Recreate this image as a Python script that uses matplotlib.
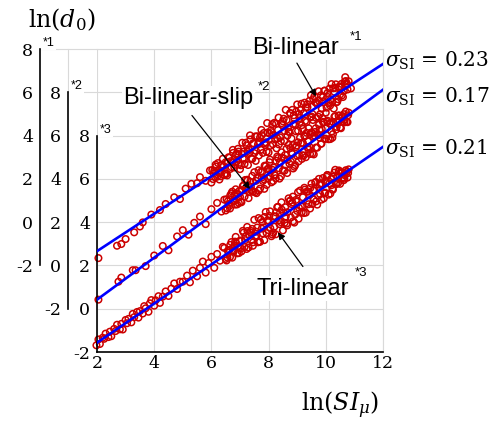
import numpy as np
import matplotlib
matplotlib.use("Agg")
from matplotlib import pyplot as plt

plt.rcParams['font.family'] = 'DejaVu Serif'
plt.rcParams['mathtext.fontset'] = 'dejavuserif'

# ln(SI_mu) / ln(d0) samples, each group in the units of its own y axis
x_bl = [2.05, 2.7, 2.85, 3.0, 3.3, 3.5, 3.6, 3.9, 4.2, 4.4, 4.7, 4.9, 5.1, 5.3, 5.5, 5.6, 5.8,
        5.95, 6.0, 6.08, 6.1, 6.15, 6.2, 6.28, 6.3, 6.35, 6.4, 6.48, 6.5, 6.55, 6.6, 6.68, 6.7,
        6.75, 6.8, 6.88, 6.9, 6.95, 7.0, 7.08, 7.1, 7.15, 7.2, 7.28, 7.3, 7.35, 7.4, 7.48, 7.5,
        7.55, 7.6, 7.68, 7.7, 7.75, 7.8, 7.88, 7.9, 7.95, 8.0, 8.08, 8.1, 8.15, 8.2, 8.28, 8.3,
        8.35, 8.4, 8.48, 8.5, 8.55, 8.6, 8.68, 8.7, 8.75, 8.8, 8.88, 8.9, 8.95, 9.0, 9.08, 9.1,
        9.15, 9.2, 9.28, 9.3, 9.35, 9.4, 9.48, 9.5, 9.55, 9.6, 9.68, 9.7, 9.75, 9.8, 9.88, 9.9,
        9.95, 10.0, 10.08, 10.1, 10.15, 10.2, 10.28, 10.3, 10.35, 10.4, 10.48, 10.5, 10.55, 10.6,
        10.68, 10.7, 10.75, 10.8, 10.88,
        6.03, 6.13, 6.23, 6.33, 6.43, 6.53, 6.63, 6.73, 6.83, 6.93, 7.03, 7.13, 7.23, 7.33, 7.43, 7.53,
        7.63, 7.73, 7.83, 7.93, 8.03, 8.13, 8.23, 8.33, 8.43, 8.53, 8.63, 8.73, 8.83, 8.93, 9.03, 9.13,
        9.23, 9.33, 9.43, 9.53, 9.63, 9.73, 9.83, 9.93, 10.03, 10.13, 10.23, 10.33, 10.43, 10.53, 10.63, 10.73,
        6.06, 6.16, 6.26, 6.36, 6.46, 6.56, 6.66, 6.76, 6.86, 6.96, 7.06, 7.16, 7.26, 7.36, 7.46, 7.56,
        7.66, 7.76, 7.86, 7.96, 8.06, 8.16, 8.26, 8.36, 8.46, 8.56, 8.66, 8.76, 8.86, 8.96, 9.06, 9.16,
        9.26, 9.36, 9.46, 9.56, 9.66, 9.76, 9.86, 9.96, 10.06, 10.16, 10.26, 10.36, 10.46, 10.56, 10.66, 10.76]
y_bl = [-1.66, -1.09, -1.01, -0.78, -0.47, -0.20, -0.01, 0.35, 0.56, 0.84, 1.15, 1.07, 1.55, 1.77, 1.80, 2.08, 1.91,
        2.39, 1.83, 2.25, 2.37, 2.66, 2.10, 1.97, 2.29, 2.64, 2.93, 2.25, 2.77, 2.16, 3.00, 2.82, 2.54,
        3.34, 2.53, 2.80, 3.17, 3.26, 2.45, 3.67, 2.94, 2.93, 3.67, 2.64, 3.36, 4.01, 2.95, 3.62, 3.19,
        2.83, 3.97, 3.69, 3.91, 4.26, 3.20, 3.57, 3.69, 4.58, 3.22, 4.24, 4.16, 3.60, 4.59, 3.41, 3.88,
        4.83, 3.92, 4.49, 4.66, 3.75, 5.19, 4.36, 4.18, 5.03, 3.87, 4.94, 4.81, 4.20, 5.44, 4.81, 4.63,
        5.47, 4.31, 4.68, 5.30, 5.45, 4.34, 5.86, 4.88, 4.72, 5.81, 5.53, 5.45, 6.05, 4.99, 4.81, 5.78,
        6.07, 5.06, 5.78, 5.50, 5.39, 6.38, 5.25, 6.02, 6.37, 5.56, 6.23, 5.90, 6.39, 5.78,
        6.70, 6.52, 6.37, 6.51, 6.18,
        2.41, 2.09, 2.73, 2.12, 2.60, 2.24, 2.98, 2.77, 2.65, 3.39, 2.63, 3.26, 3.55, 3.19, 2.92, 3.96,
        3.60, 3.34, 4.12, 3.26, 4.10, 4.53, 3.82, 4.26, 3.74, 4.78, 4.72, 4.16, 5.19, 4.53, 4.22, 5.20,
        5.04, 4.63, 5.61, 5.00, 5.54, 4.88, 5.86, 5.55, 5.29, 6.17, 5.56, 6.20, 5.68, 6.27, 6.06, 6.40,
        1.99, 2.57, 2.31, 2.65, 2.18, 2.77, 2.46, 3.20, 3.13, 2.67, 3.16, 2.69, 3.28, 3.82, 3.65, 3.29,
        3.08, 4.02, 3.65, 4.14, 3.53, 4.01, 4.55, 3.59, 4.57, 4.21, 4.00, 5.04, 4.52, 5.11, 5.00, 4.48,
        5.52, 5.31, 4.84, 5.68, 4.82, 5.61, 5.24, 6.08, 5.97, 5.65, 6.19, 5.53, 6.26, 5.85, 6.49, 6.13]

x_bls = [2.05, 2.75, 2.85, 3.25, 3.35, 3.7, 4.0, 4.3, 4.5, 4.8, 5.0, 5.2, 5.4, 5.6, 5.8, 6.0, 6.2, 6.35,
         6.45, 6.5, 6.58, 6.6, 6.65, 6.7, 6.78, 6.8, 6.85, 6.9, 6.98, 7.0, 7.05, 7.1, 7.18, 7.2,
         7.25, 7.3, 7.38, 7.4, 7.45, 7.5, 7.58, 7.6, 7.65, 7.7, 7.78, 7.8, 7.85, 7.9, 7.98, 8.0,
         8.05, 8.1, 8.18, 8.2, 8.25, 8.3, 8.38, 8.4, 8.45, 8.5, 8.58, 8.6, 8.65, 8.7, 8.78, 8.8,
         8.85, 8.9, 8.98, 9.0, 9.05, 9.1, 9.18, 9.2, 9.25, 9.3, 9.38, 9.4, 9.45, 9.5, 9.58, 9.6,
         9.65, 9.7, 9.78, 9.8, 9.85, 9.9, 9.98, 10.0, 10.05, 10.1, 10.18, 10.2, 10.25, 10.3, 10.38, 10.4,
         10.45, 10.5, 10.58, 10.6, 10.65, 10.7, 10.78, 10.8,
         6.53, 6.63, 6.73, 6.83, 6.93, 7.03, 7.13, 7.23, 7.33, 7.43, 7.53, 7.63, 7.73, 7.83, 7.93,
         8.03, 8.13, 8.23, 8.33, 8.43, 8.53, 8.63, 8.73, 8.83, 8.93, 9.03, 9.13, 9.23, 9.33, 9.43,
         9.53, 9.63, 9.73, 9.83, 9.93, 10.03, 10.13, 10.23, 10.33, 10.43, 10.53, 10.63, 10.73,
         6.56, 6.66, 6.76, 6.86, 6.96, 7.06, 7.16, 7.26, 7.36, 7.46, 7.56, 7.66, 7.76, 7.86, 7.96,
         8.06, 8.16, 8.26, 8.36, 8.46, 8.56, 8.66, 8.76, 8.86, 8.96, 9.06, 9.16, 9.26, 9.36, 9.46,
         9.56, 9.66, 9.76, 9.86, 9.96, 10.06, 10.16, 10.26, 10.36, 10.46, 10.56, 10.66, 10.76]
y_bls = [-1.58, -0.75, -0.56, -0.22, -0.22, -0.03, 0.46, 0.90, 0.70, 1.34, 1.63, 1.42, 1.97, 2.26, 1.91, 2.60, 2.89, 2.49,
         3.04, 2.54, 2.97, 2.84, 2.63, 3.33, 2.96, 3.23, 3.52, 2.82, 3.45, 3.17, 2.92, 3.67, 3.95, 3.57,
         3.96, 3.11, 3.64, 3.46, 3.41, 4.31, 3.34, 4.06, 4.40, 3.55, 4.33, 3.90, 3.54, 4.59, 4.02, 4.49,
         4.89, 3.84, 4.52, 4.19, 4.03, 5.03, 4.01, 4.78, 5.23, 4.38, 5.11, 4.63, 4.27, 5.57, 4.80, 5.22,
         5.56, 4.56, 5.54, 5.06, 4.81, 5.91, 5.09, 5.66, 6.00, 5.00, 5.73, 5.35, 5.15, 6.15, 5.13, 6.00,
         6.34, 5.44, 6.27, 5.89, 5.63, 6.63, 5.86, 6.33, 6.63, 5.83, 6.56, 6.18, 6.07, 6.87, 6.40, 6.67,
         6.92, 6.37, 6.90, 6.67, 6.61, 7.11, 6.94, 7.06,
         3.06, 2.76, 3.41, 2.81, 3.30, 2.95, 3.70, 3.49, 3.39, 4.14, 3.38, 4.03, 4.33, 3.98, 3.72,
         4.77, 4.42, 4.16, 4.96, 4.11, 4.95, 5.40, 4.70, 5.15, 4.64, 5.69, 5.64, 5.08, 6.13, 5.48,
         5.17, 6.17, 6.02, 5.62, 6.61, 6.01, 6.56, 5.90, 6.90, 6.60, 6.34, 6.99, 6.64,
         2.64, 3.24, 2.99, 3.34, 2.88, 3.48, 3.18, 3.92, 3.87, 3.42, 3.91, 3.46, 4.06, 4.61, 4.45,
         4.10, 3.90, 4.84, 4.49, 4.99, 4.38, 4.88, 5.43, 4.48, 5.47, 5.12, 4.92, 5.96, 5.46, 6.06,
         5.95, 5.45, 6.50, 6.30, 5.84, 6.69, 5.84, 6.63, 6.28, 6.93, 6.82, 6.72, 6.62]

x_tl = [1.98, 2.05, 2.1, 2.2, 2.25, 2.3, 2.4, 2.45, 2.5, 2.6, 2.65, 2.7, 2.8, 2.85, 2.9, 3.0, 3.05,
        3.1, 3.2, 3.25, 3.3, 3.4, 3.45, 3.5, 3.6, 3.65, 3.7, 3.8, 3.85, 3.9, 4.0, 4.05, 4.15, 4.2,
        4.3, 4.4, 4.5, 4.6, 4.7, 4.8, 4.9, 5.0,
        5.15, 5.25, 5.35, 5.5, 5.6, 5.7, 5.8, 5.9, 6.0, 6.1, 6.2, 6.3, 6.4,
        6.45, 6.5, 6.58, 6.6, 6.65, 6.7, 6.78, 6.8, 6.85, 6.9, 6.98, 7.0, 7.05, 7.1, 7.18, 7.2,
        7.25, 7.3, 7.38, 7.4, 7.45, 7.5, 7.58, 7.6, 7.65, 7.7, 7.78, 7.8, 7.85, 7.9, 7.98, 8.0,
        8.05, 8.1, 8.18, 8.2, 8.25, 8.3, 8.38, 8.4, 8.45, 8.5, 8.58, 8.6, 8.65, 8.7, 8.78, 8.8,
        8.85, 8.9, 8.98, 9.0, 9.05, 9.1, 9.18, 9.2, 9.25, 9.3, 9.38, 9.4, 9.45, 9.5, 9.58, 9.6,
        9.65, 9.7, 9.78, 9.8, 9.85, 9.9, 9.98, 10.0, 10.05, 10.1, 10.18, 10.2, 10.25, 10.3, 10.38, 10.4,
        10.45, 10.5, 10.58, 10.6, 10.65, 10.7, 10.78, 10.8,
        6.53, 6.63, 6.73, 6.83, 6.93, 7.03, 7.13, 7.23, 7.33, 7.43, 7.53, 7.63, 7.73, 7.83, 7.93,
        8.03, 8.13, 8.23, 8.33, 8.43, 8.53, 8.63, 8.73, 8.83, 8.93, 9.03, 9.13, 9.23, 9.33, 9.43,
        9.53, 9.63, 9.73, 9.83, 9.93, 10.03, 10.13, 10.23, 10.33, 10.43, 10.53, 10.63, 10.73,
        6.56, 6.66, 6.76, 6.86, 6.96, 7.06, 7.16, 7.26, 7.36, 7.46, 7.56, 7.66, 7.76, 7.86, 7.96,
        8.06, 8.16, 8.26, 8.36, 8.46, 8.56, 8.66, 8.76, 8.86, 8.96, 9.06, 9.16, 9.26, 9.36, 9.46,
        9.56, 9.66, 9.76, 9.86, 9.96, 10.06, 10.16, 10.26, 10.36, 10.46, 10.56, 10.66, 10.76]
y_tl = [-1.69, -1.42, -1.63, -1.34, -1.39, -1.15, -1.31, -1.06, -1.27, -0.93, -1.03, -0.74, -0.95, -0.70, -0.96, -0.52, -0.67,
        -0.47, -0.63, -0.24, -0.39, -0.15, -0.41, -0.11, -0.22, 0.12, 0.02, -0.14, 0.25, 0.40, 0.14, 0.39, 0.58, 0.27,
        0.56, 0.80, 0.59, 0.93, 1.17, 0.91, 1.25, 1.25,
        1.53, 1.22, 1.76, 1.50, 1.89, 2.18, 1.67, 2.11, 2.40, 1.89, 2.53, 2.22, 2.86,
        2.81, 2.30, 2.67, 2.59, 2.39, 3.08, 2.65, 2.92, 3.32, 2.56, 3.13, 2.85, 2.65, 3.60, 3.17, 3.34,
        3.78, 2.83, 3.60, 3.17, 2.91, 4.11, 3.38, 3.75, 4.19, 3.09, 4.01, 3.48, 3.17, 4.47, 3.64, 4.06,
        4.50, 3.35, 4.27, 3.79, 3.44, 4.69, 3.91, 4.43, 4.92, 3.62, 4.69, 4.26, 3.85, 5.10, 4.22, 4.84,
        5.18, 3.98, 4.95, 4.52, 4.16, 5.46, 4.73, 5.15, 5.59, 4.44, 5.41, 4.83, 4.63, 5.78, 5.05, 5.47,
        5.86, 4.81, 5.73, 5.30, 5.04, 6.04, 5.36, 5.88, 6.17, 5.27, 5.99, 5.71, 5.50, 6.29, 5.81, 6.13,
        6.33, 5.77, 6.29, 6.06, 6.01, 6.40, 6.27, 6.44,
        2.23, 2.72, 2.36, 3.10, 2.89, 2.78, 3.52, 2.76, 3.40, 3.69, 3.33, 3.07, 4.12, 3.76, 3.50,
        4.29, 3.43, 4.27, 4.71, 4.00, 4.44, 3.93, 4.97, 4.91, 4.35, 5.39, 4.73, 4.42, 5.41, 5.25,
        4.84, 5.83, 5.22, 5.76, 5.10, 6.10, 5.79, 5.53, 6.42, 5.81, 6.30, 5.94, 6.33,
        2.36, 2.95, 2.69, 3.03, 2.57, 3.16, 2.85, 3.59, 3.53, 3.07, 3.56, 3.10, 3.70, 4.24, 4.08,
        3.72, 3.51, 4.45, 4.09, 4.58, 3.97, 4.46, 5.00, 4.04, 5.03, 4.67, 4.46, 5.50, 4.99, 5.58,
        5.47, 4.96, 6.00, 5.79, 5.33, 6.18, 5.32, 6.11, 5.75, 6.39, 6.28, 6.17, 6.06]

# regression lines (intercept, slope) and their sigma
fits = [(-3.07, 0.865), (-3.52, 0.97), (-3.38, 0.905)]
sigmas = ['0.23', '0.17', '0.21']
xticks = [2, 4, 6, 8, 10, 12]
yticks = [-2, 0, 2, 4, 6, 8]

red = '#cc0000'
grey = '#d9d9d9'
sans = 'Liberation Sans'

fig = plt.figure(figsize=(4.99, 4.23), dpi=100)
ax = fig.add_axes([0.1944, 0.1678, 0.5731, 0.7163])
ax.set_xlim(2, 12)
ax.set_ylim(-2, 12)

groups = [(x_bl, y_bl, 4), (x_bls, y_bls, 2), (x_tl, y_tl, 0)]
xl = np.array([2, 12])
for (xs, ys, off), (a, b) in zip(groups, fits):
    ax.scatter(xs, np.array(ys) + off, s=22, facecolors='none', edgecolors=red,
               linewidths=1.1, zorder=2, clip_on=False)
    ax.plot(xl, a + b * xl + off, color='#0000ff', lw=1.9, zorder=3)

ax.set_xticks(xticks)
ax.set_xticklabels([str(t) for t in xticks])
ax.set_yticks(yticks + [10, 12])
ax.set_yticklabels([str(t) for t in yticks] + ['', ''])
ax.grid(True, color=grey, lw=0.8)
ax.set_axisbelow(True)
for s in ['top', 'right']:
    ax.spines[s].set_color(grey)
    ax.spines[s].set_linewidth(0.8)
ax.spines['left'].set_bounds(-2, 8)
ax.spines['left'].set_linewidth(1.2)
ax.spines['bottom'].set_linewidth(1.2)
ax.tick_params(length=0, labelsize=12.5)
ax.tick_params(axis='y', pad=5)
ax.tick_params(axis='x', pad=2)

# the two shifted y axes of the upper groups
locs = [-0.1993, -0.1014]
for loc, off in zip(locs, [4, 2]):
    sec = ax.secondary_yaxis(loc, functions=(lambda v, o=off: v - o, lambda v, o=off: v + o))
    sec.set_yticks(yticks)
    sec.set_yticklabels([str(t) for t in yticks])
    sec.spines['left'].set_bounds(-2, 8)
    sec.spines['left'].set_linewidth(1.2)
    sec.tick_params(length=0, labelsize=12.5, pad=5)

ytr = ax.get_yaxis_transform()
ax.plot([locs[0], 0], [12, 12], color=grey, lw=0.8, transform=ytr, clip_on=False, zorder=0)
ax.plot([locs[1], 0], [10, 10], color=grey, lw=0.8, transform=ytr, clip_on=False, zorder=0)
ax.plot([locs[1], locs[1]], [10, 12], color=grey, lw=0.8, transform=ytr, clip_on=False, zorder=0)

wb = dict(facecolor='white', edgecolor='none', pad=1)
for loc, top, tag in zip(locs + [0], [12, 10, 8], ['*1', '*2', '*3']):
    ax.annotate(tag, xy=(loc, top), xycoords=ytr, xytext=(2, 0), textcoords='offset points',
                ha='left', va='bottom', fontsize=9, family=sans, bbox=wb, zorder=5)

# model labels and arrows
ax.text(7.42, 11.77, 'Bi-linear', fontsize=17, family=sans, va='baseline', bbox=wb, zorder=5)
ax.text(10.85, 12.84, '*1', fontsize=9.5, family=sans, va='top', zorder=5)
ax.text(2.91, 9.44, 'Bi-linear-slip', fontsize=17, family=sans, va='baseline', bbox=wb, zorder=5)
ax.text(7.63, 10.51, '*2', fontsize=9.5, family=sans, va='top', zorder=5)
ax.text(7.59, 0.65, 'Tri-linear', fontsize=17, family=sans, va='baseline', bbox=wb, zorder=5)
ax.text(11.02, 1.91, '*3', fontsize=9.5, family=sans, va='top', zorder=5)

arrow = dict(arrowstyle='-|>', color='black', lw=0.9, mutation_scale=10, shrinkA=0, shrinkB=0)
ax.annotate('', xy=(9.66, 9.81), xytext=(8.99, 11.35), arrowprops=arrow, zorder=6)
ax.annotate('', xy=(7.35, 5.53), xytext=(5.32, 8.93), arrowprops=arrow, zorder=6)
ax.annotate('', xy=(8.33, 3.53), xytext=(9.20, 1.95), arrowprops=arrow, zorder=6)

for yv, sg in zip([11.44, 9.81, 7.40], sigmas):
    ax.text(12.07, yv, r'$\sigma_{\mathrm{SI}}$ = ' + sg, fontsize=14.5, va='center', ha='left')

fig.text(0.124, 0.953, r'$\ln(d_0)$', fontsize=17, ha='center', va='center')
fig.text(0.681, 0.043, r'$\ln(SI_\mu)$', fontsize=17, ha='center', va='center')

fig.savefig('out.png', dpi=100)
